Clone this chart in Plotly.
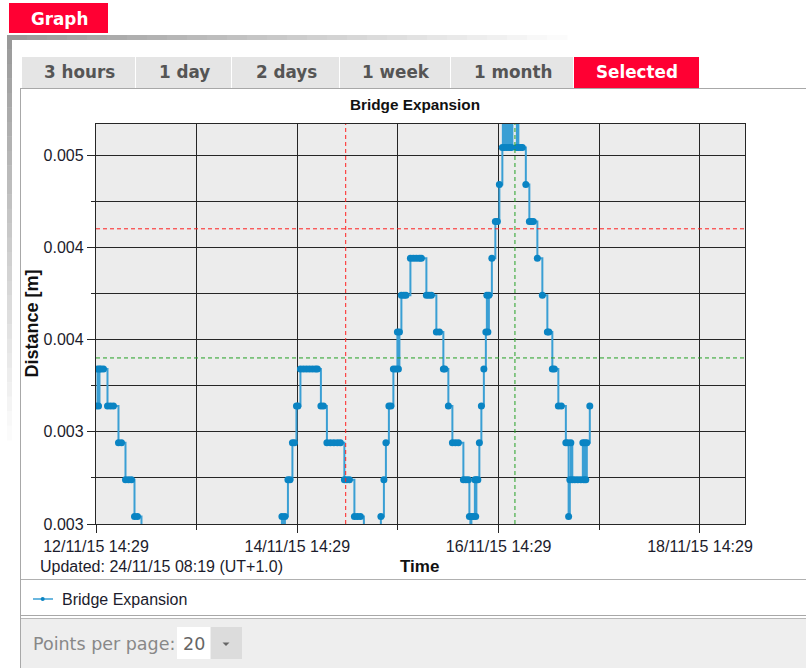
import pandas as pd
import plotly.graph_objects as go

# ---------------------------------------------------------------- data
START = pd.Timestamp("2015-11-12 14:29")

# elapsed hours since the first reading, and bridge expansion readings [m]
hours_elapsed = (
    [0.00, 0.36, 0.60, 0.83, 1.19, 1.79, 2.74, 3.46, 4.17, 5.36, 6.08, 7.03, 7.75, 8.46, 9.18, 9.89, 10.84, 24.80, 42.90]
    + [43.61, 44.33, 44.69, 45.04, 45.76, 46.24, 46.83, 47.31, 47.79, 48.14, 48.74, 49.45, 50.17, 50.88, 51.60, 52.31, 52.79]
    + [53.62, 54.22, 55.05, 55.89, 56.72, 57.56, 58.27, 59.22, 59.82, 60.42, 61.61, 62.32, 63.04, 63.87, 65.78]
    + [67.57, 67.92, 68.64, 69.12, 69.83, 70.31, 70.90, 71.50, 71.86, 72.10, 72.34, 72.81, 73.41, 73.89, 74.96, 75.67, 76.39, 77.10, 77.58]
    + [78.77, 79.36, 79.96, 81.15, 81.87, 82.82, 83.18, 84.01, 84.97, 85.68, 86.40, 87.59, 88.18, 88.78]
    + [89.02, 89.26, 89.50, 89.97, 90.33, 90.52, 90.69, 91.04, 91.40, 91.88, 92.47, 92.95, 93.19, 93.43, 93.67, 94.38, 95.21, 95.69, 96.17]
    + [96.88, 97.00, 97.36, 97.60, 97.95, 98.19, 98.55, 98.79, 99.03, 99.27, 99.86, 100.34, 100.46, 100.70, 101.29, 101.65]
    + [102.48, 103.32, 103.80, 104.27, 105.23, 106.42, 107.61, 107.97, 108.80, 109.28, 110.23, 110.94]
    + [112.02, 112.49, 112.68, 112.97, 113.21, 113.56, 114.16, 114.87, 115.59, 116.07, 116.30, 116.54, 116.78, 117.02, 117.73]
)
distance_m = (
    [0.00364, 0.00384, 0.00364, 0.00384, 0.00384, 0.00384, 0.00364, 0.00364, 0.00364, 0.00344, 0.00344, 0.00324, 0.00324, 0.00324, 0.00304, 0.00304, 0.00284, 0.00264, 0.00264]
    + [0.00284, 0.00304, 0.00284, 0.00304, 0.00324, 0.00324, 0.00344, 0.00344, 0.00364, 0.00364, 0.00384, 0.00384, 0.00384, 0.00384, 0.00384, 0.00384, 0.00384]
    + [0.00364, 0.00364, 0.00344, 0.00344, 0.00344, 0.00344, 0.00344, 0.00324, 0.00324, 0.00324, 0.00304, 0.00304, 0.00304, 0.00284, 0.00264]
    + [0.00284, 0.00304, 0.00324, 0.00344, 0.00364, 0.00364, 0.00384, 0.00384, 0.00404, 0.00384, 0.00404, 0.00424, 0.00424, 0.00424, 0.00444, 0.00444, 0.00444, 0.00444, 0.00444]
    + [0.00424, 0.00424, 0.00424, 0.00404, 0.00404, 0.00384, 0.00384, 0.00364, 0.00344, 0.00344, 0.00344, 0.00324, 0.00324, 0.00324]
    + [0.00304, 0.00284, 0.00304, 0.00304, 0.00324, 0.00304, 0.00324, 0.00324, 0.00344, 0.00364, 0.00384, 0.00404, 0.00424, 0.00404, 0.00424, 0.00444, 0.00464, 0.00464, 0.00484]
    + [0.00504, 0.00524, 0.00504, 0.00524, 0.00504, 0.00524, 0.00504, 0.00524, 0.00504, 0.00524, 0.00524, 0.00504, 0.00524, 0.00504, 0.00504, 0.00504]
    + [0.00484, 0.00464, 0.00464, 0.00464, 0.00444, 0.00424, 0.00404, 0.00404, 0.00384, 0.00384, 0.00364, 0.00364]
    + [0.00344, 0.00344, 0.00304, 0.00324, 0.00344, 0.00324, 0.00324, 0.00324, 0.00324, 0.00344, 0.00324, 0.00344, 0.00324, 0.00344, 0.00364]
)
assert len(hours_elapsed) == len(distance_m)
times = START + pd.to_timedelta(hours_elapsed, unit="h")

x_range = ["2015-11-12 14:29", "2015-11-19 01:13"]
y_range = [0.003, 0.005168]
y_tick_vals = [0.003, 0.0035, 0.004, 0.0045, 0.005]
y_tick_text = ["0.003", "0.003", "0.004", "0.004", "0.005"]

red_level = 0.0046
green_level = 0.0039
red_time = "2015-11-15 02:01"
green_time = "2015-11-16 18:22"

series_name = "Bridge Expansion"
tab_labels = ["3 hours", "1 day", "2 days", "1 week", "1 month", "Selected"]
updated_text = "Updated: 24/11/15 08:19 (UT+1.0)"
points_per_page = "20"

# ---------------------------------------------------------------- page geometry (pixels)
W, H = 806, 668
PLOT_L, PLOT_R, PLOT_T, PLOT_B = 96, 745, 124, 524
tab_edges = [(22, 135), (136, 231), (232, 339), (340, 450), (451, 573), (574, 699)]
TAB_T, TAB_B = 57, 88

RED = "#ff0033"
LINE_BLUE = "#3a9fd4"
MARK_BLUE = "#0a84c3"
INK = "#1c1c2c"


def fx(x):
    return x / W


def fy(y):
    return 1 - y / H


shapes = []
annotations = []


def rect(x0, y0, x1, y1, fill, layer="below"):
    shapes.append(dict(type="rect", xref="paper", yref="paper",
                       x0=fx(x0), x1=fx(x1), y0=fy(y1), y1=fy(y0),
                       fillcolor=fill, line=dict(width=0), layer=layer))


def hline(x0, x1, y, color, width=1):
    shapes.append(dict(type="line", xref="paper", yref="paper",
                       x0=fx(x0), x1=fx(x1), y0=fy(y), y1=fy(y),
                       line=dict(color=color, width=width), layer="below"))


def vline(x, y0, y1, color, width=1):
    shapes.append(dict(type="line", xref="paper", yref="paper",
                       x0=fx(x), x1=fx(x), y0=fy(y0), y1=fy(y1),
                       line=dict(color=color, width=width), layer="below"))


def text(x, y, s, size, color, family="Liberation Sans", bold=False,
         xanchor="center", angle=0):
    if bold:
        s = "<b>" + s + "</b>"
    annotations.append(dict(xref="paper", yref="paper", x=fx(x), y=fy(y),
                            text=s, showarrow=False, xanchor=xanchor,
                            yanchor="middle", textangle=angle,
                            font=dict(family=family, size=size, color=color)))


def shade(t):
    g = int(round(0x99 + (0xff - 0x99) * t))
    return "#%02x%02x%02x" % (g, g, g)


# outer frame with fading gray border
steps = 28
for i in range(steps):
    x0 = 7 + (567 - 7) * i / steps
    x1 = 7 + (567 - 7) * (i + 1) / steps + 0.5
    rect(x0, 35, x1, 40, shade(i / steps))
for i in range(steps):
    y0 = 35 + (440 - 35) * i / steps
    y1 = 35 + (440 - 35) * (i + 1) / steps + 0.5
    rect(7, y0, 12, y1, shade(i / steps))

# "Graph" header tab
rect(9, 3, 108, 33, RED)
text(59.5, 18.5, "Graph", 16.8, "white", family="DejaVu Sans", bold=True)

# range tabs
for (x0, x1), label in zip(tab_edges, tab_labels):
    selected = label == "Selected"
    rect(x0, TAB_T, x1, TAB_B, RED if selected else "#e5e5e5")
    text((x0 + x1) / 2 + 0.5, 72.5, label, 16.8, "white" if selected else "#555555",
         family="DejaVu Sans", bold=True)

# chart container borders
hline(20.5, W, 88.5, "#a8a8a8")
vline(20.5, 88, H, "#a8a8a8")
hline(21, W, 579.5, "#b0b0b0")
hline(21, W, 615.5, "#a8a8a8")
hline(21, W, 618.5, "#b8b8b8")

# footer with page-size selector
rect(21, 619, W, H, "#eeeeee")
rect(177, 627, 210, 659, "white")
rect(211, 627, 242, 659, "#dcdcdc")
shapes.append(dict(type="path", xref="paper", yref="paper",
                   path="M %f %f L %f %f L %f %f Z" % (fx(222.5), fy(642.5), fx(229.5), fy(642.5), fx(226), fy(646)),
                   fillcolor="#666666", line=dict(width=0), layer="above"))
text(31, 643.5, "Points per page:", 17.5, "#888888", family="DejaVu Sans", xanchor="left")
text(181, 643.5, points_per_page, 17.5, "#666666", family="DejaVu Sans", xanchor="left")

# titles and notes
text(415.5, 104, series_name, 15.3, "#111111", bold=True)
text(31.5, 324, "Distance [m]", 18, "#111111", bold=True, angle=-90)
text(419.5, 566.5, "Time", 17, "#111111", bold=True)
text(38, 566.5, updated_text, 16, INK, xanchor="left")

# legend row
hline(33, 53, 599, LINE_BLUE, 1.5)
shapes.append(dict(type="circle", xref="paper", yref="paper",
                   x0=fx(40.7), x1=fx(44.7), y0=fy(601), y1=fy(597),
                   fillcolor=MARK_BLUE, line=dict(width=0), layer="above"))
text(60, 599, series_name, 16, INK, xanchor="left")

# threshold and cursor lines on the plot
dash = "4px,3px"
shapes.append(dict(type="line", xref="paper", yref="y", x0=fx(PLOT_L), x1=fx(PLOT_R),
                   y0=red_level, y1=red_level, line=dict(color="#ff2020", width=1, dash=dash)))
shapes.append(dict(type="line", xref="paper", yref="y", x0=fx(PLOT_L), x1=fx(PLOT_R),
                   y0=green_level, y1=green_level, line=dict(color="#22a022", width=1, dash=dash)))
shapes.append(dict(type="line", xref="x", yref="paper", x0=red_time, x1=red_time,
                   y0=fy(PLOT_B), y1=fy(PLOT_T), line=dict(color="#ff2020", width=1, dash=dash)))
shapes.append(dict(type="line", xref="x", yref="paper", x0=green_time, x1=green_time,
                   y0=fy(PLOT_B), y1=fy(PLOT_T), line=dict(color="#22a022", width=1, dash=dash)))

# ---------------------------------------------------------------- figure
fig = go.Figure()
fig.add_trace(go.Scatter(
    x=times, y=distance_m, name=series_name, mode="lines+markers",
    line=dict(color=LINE_BLUE, width=2, shape="hv"),
    marker=dict(color=MARK_BLUE, size=7, line=dict(width=0)),
    showlegend=False,
))

GRID = "#262626"
tick_font = dict(family="Liberation Sans", size=16, color=INK)
fig.update_layout(
    template="none",
    width=W, height=H, autosize=False,
    margin=dict(l=0, r=0, t=0, b=0, pad=0),
    paper_bgcolor="white", plot_bgcolor="#ececec",
    shapes=shapes, annotations=annotations,
    xaxis=dict(
        type="date", range=x_range, domain=[fx(PLOT_L), fx(PLOT_R)], automargin=False,
        tick0="2015-11-12 14:29", dtick=2 * 86400000, tickformat="%d/%m/%y %H:%M",
        ticks="outside", ticklen=8, tickwidth=1.3, tickcolor=GRID,
        showgrid=True, gridcolor=GRID, gridwidth=1.3,
        minor=dict(tick0="2015-11-12 14:29", dtick=86400000, ticks="outside", ticklen=5,
                   tickcolor=GRID, tickwidth=1.3, showgrid=True, gridcolor=GRID, gridwidth=1.3),
        showline=True, linecolor=GRID, linewidth=1.3, mirror=True,
        tickfont=tick_font, zeroline=False, fixedrange=True,
    ),
    yaxis=dict(
        range=y_range, domain=[fy(PLOT_B), fy(PLOT_T)], automargin=False,
        tickvals=y_tick_vals, ticktext=y_tick_text,
        ticks="outside", ticklen=8, tickwidth=1.3, tickcolor=GRID,
        showgrid=True, gridcolor=GRID, gridwidth=1.3,
        minor=dict(tick0=0.003, dtick=0.00025, ticks="outside", ticklen=4,
                   tickcolor=GRID, tickwidth=1.3, showgrid=True, gridcolor=GRID, gridwidth=1.3),
        showline=True, linecolor=GRID, linewidth=1.3, mirror=True,
        tickfont=tick_font, zeroline=False, fixedrange=True,
    ),
)

fig.write_html("out.html")
